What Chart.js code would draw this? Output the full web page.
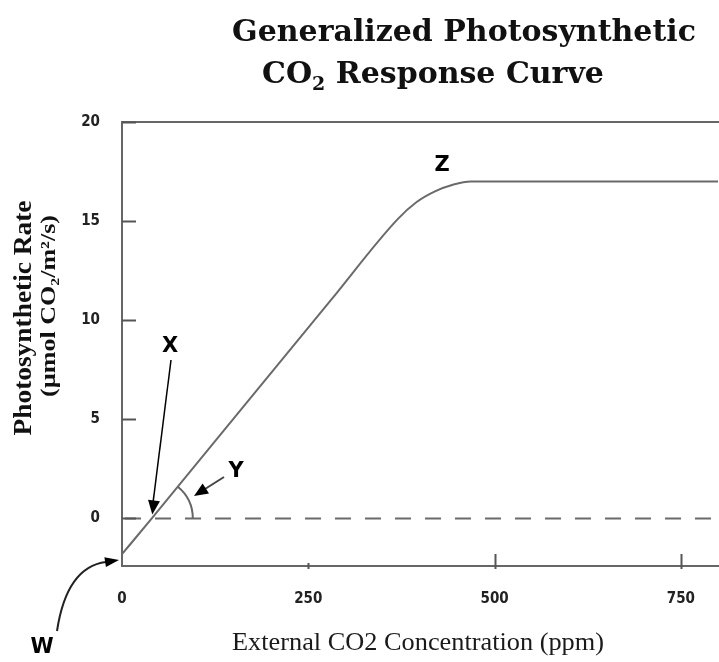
<!DOCTYPE html>
<html>
<head>
<meta charset="utf-8">
<script src="https://cdn.jsdelivr.net/npm/chart.js@4/dist/chart.umd.min.js"></script>
<style>
html,body{margin:0;padding:0;background:#fff;}
canvas{display:block;}
</style>
</head>
<body>
<canvas id="c" width="719" height="662"></canvas>
<script>
// ---- data ----
const co2Ppm    = [0, 40, 150, 280, 370, 395, 420, 445, 468, 800];
const photoRate = [-1.8, 0, 5.05, 11.0, 15.1, 15.95, 16.5, 16.85, 17.0, 17.0];
const baselineX = [0, 800];
const baselineY = [0, 0];
const xTickValues = [0, 250, 500, 750];
const yTickValues = [0, 5, 10, 15, 20];
const chartTitle = ["Generalized Photosynthetic", "CO", "2", " Response Curve"];
const xTitle = "External CO2 Concentration (ppm)";
const yTitle = ["Photosynthetic Rate", "(µmol CO₂/m²/s)"];
const labelW = "W", labelX = "X", labelY = "Y", labelZ = "Z";

const curve = co2Ppm.map((x, i) => ({x, y: photoRate[i]}));
const base = baselineX.map((x, i) => ({x, y: baselineY[i]}));

const SERIF = "'DejaVu Serif', 'Liberation Serif', serif";
const TIMES = "'Liberation Serif', 'DejaVu Serif', serif";
const SANS = "'DejaVu Sans', 'Liberation Sans', sans-serif";

function arrowHead(ctx, x1, y1, x2, y2, len, wid) {
  const a = Math.atan2(y2 - y1, x2 - x1);
  ctx.beginPath();
  ctx.moveTo(x2, y2);
  ctx.lineTo(x2 - len * Math.cos(a) + wid * Math.sin(a), y2 - len * Math.sin(a) - wid * Math.cos(a));
  ctx.lineTo(x2 - len * Math.cos(a) - wid * Math.sin(a), y2 - len * Math.sin(a) + wid * Math.cos(a));
  ctx.closePath();
  ctx.fill();
}

const decor = {
  id: 'decor',
  afterDraw(chart) {
    const ctx = chart.ctx;
    const xs = chart.scales.x, ys = chart.scales.y;
    const ca = chart.chartArea;
    ctx.save();
    // inner tick marks
    ctx.strokeStyle = '#555';
    ctx.lineWidth = 2;
    yTickValues.forEach(v => {
      const py = Math.round(ys.getPixelForValue(v)) + 0.5;
      ctx.beginPath(); ctx.moveTo(ca.left, py); ctx.lineTo(ca.left + 14, py); ctx.stroke();
    });
    xTickValues.forEach(v => {
      if (v === 0) return;
      const px = Math.round(xs.getPixelForValue(v)) + 0.5;
      const up = v === 250 ? 3 : 12;
      ctx.beginPath(); ctx.moveTo(px, ca.bottom - up); ctx.lineTo(px, ca.bottom + 3); ctx.stroke();
    });

    // chart title
    ctx.fillStyle = '#111';
    ctx.textBaseline = 'alphabetic';
    ctx.font = "bold 30px " + SERIF;
    ctx.textAlign = 'center';
    ctx.fillText(chartTitle[0], 464, 41);
    ctx.textAlign = 'left';
    const f1 = "bold 30px " + SERIF, f2 = "bold 19px " + SERIF;
    ctx.font = f1; const w1 = ctx.measureText(chartTitle[1]).width;
    ctx.font = f2; const w2 = ctx.measureText(chartTitle[2]).width;
    ctx.font = f1; const w3 = ctx.measureText(chartTitle[3]).width;
    let sx = 433 - (w1 + w2 + w3) / 2;
    ctx.font = f1; ctx.fillText(chartTitle[1], sx, 83);
    ctx.font = f2; ctx.fillText(chartTitle[2], sx + w1, 90);
    ctx.font = f1; ctx.fillText(chartTitle[3], sx + w1 + w2, 83);

    // x axis title
    ctx.textAlign = 'center';
    ctx.textBaseline = 'middle';
    ctx.fillStyle = '#1a1a1a';
    ctx.font = "25px " + TIMES;
    ctx.save();
    ctx.translate(418, 643);
    const wx = ctx.measureText(xTitle).width;
    ctx.scale(372 / wx, 1);
    ctx.fillText(xTitle, 0, 0);
    ctx.restore();

    // y axis title (rotated, stretched along the text like the reference)
    ctx.fillStyle = '#111';
    ctx.save();
    ctx.translate(25, 318);
    ctx.rotate(-Math.PI / 2);
    ctx.font = "bold 25px " + TIMES;
    let wl = ctx.measureText(yTitle[0]).width;
    ctx.save(); ctx.scale(235 / wl, 1); ctx.fillText(yTitle[0], 0, 0); ctx.restore();
    ctx.restore();
    ctx.save();
    ctx.translate(50, 306);
    ctx.rotate(-Math.PI / 2);
    ctx.font = "bold 21px " + TIMES;
    wl = ctx.measureText(yTitle[1]).width;
    ctx.save(); ctx.scale(182 / wl, 1); ctx.fillText(yTitle[1], 0, 0); ctx.restore();
    ctx.restore();

    // annotation letters
    ctx.font = "bold 21px " + SANS;
    ctx.fillStyle = '#000';
    ctx.fillText(labelZ, 442, 166);
    ctx.fillText(labelX, 170, 347);
    ctx.fillText(labelY, 236, 472);
    ctx.fillText(labelW, 42, 648);

    // X arrow -> where the curve crosses zero
    const cx = xs.getPixelForValue(co2Ppm[1]);
    const cy = ys.getPixelForValue(0);
    ctx.strokeStyle = '#000'; ctx.lineWidth = 1.5;
    ctx.beginPath(); ctx.moveTo(171, 360); ctx.lineTo(cx + 1, cy - 14); ctx.stroke();
    arrowHead(ctx, 171, 360, cx + 0.5, cy - 4, 14, 6);

    // angle arc Y
    const p0 = xs.getPixelForValue(co2Ppm[0]), q0 = ys.getPixelForValue(photoRate[0]);
    const p3 = xs.getPixelForValue(co2Ppm[3]), q3 = ys.getPixelForValue(photoRate[3]);
    const ang = Math.atan2(q3 - q0, p3 - p0);
    ctx.strokeStyle = '#666'; ctx.lineWidth = 2;
    ctx.beginPath(); ctx.arc(cx, cy, 41, ang, 0); ctx.stroke();
    // Y arrow
    ctx.strokeStyle = '#444'; ctx.lineWidth = 2; ctx.fillStyle = '#000';
    ctx.beginPath(); ctx.moveTo(224, 477); ctx.lineTo(205, 489); ctx.stroke();
    arrowHead(ctx, 224, 477, 194, 496, 14, 6);

    // W curved arrow
    ctx.strokeStyle = '#222'; ctx.lineWidth = 2;
    ctx.beginPath();
    ctx.moveTo(57, 631);
    ctx.bezierCurveTo(62, 598, 74, 566, 106, 562);
    ctx.stroke();
    arrowHead(ctx, 100, 563, 119, 560, 14, 5);
    ctx.restore();
  }
};

new Chart(document.getElementById('c'), {
  type: 'line',
  data: {
    datasets: [
      { data: curve, borderColor: '#6a6a6a', borderWidth: 2, pointRadius: 0,
        cubicInterpolationMode: 'monotone', fill: false },
      { data: base, borderColor: '#6a6a6a', borderWidth: 2, pointRadius: 0,
        borderDash: [16, 14], borderDashOffset: -3, fill: false }
    ]
  },
  options: {
    responsive: false,
    animation: false,
    devicePixelRatio: 1,
    layout: { padding: { left: 0, top: 122, right: 0, bottom: 0 } },
    plugins: { legend: { display: false }, tooltip: { enabled: false }, title: { display: false } },
    scales: {
      x: {
        type: 'linear', min: 0, max: 800, position: 'bottom',
        afterBuildTicks: s => { s.ticks = xTickValues.map(v => ({value: v})); },
        afterFit: s => { s.height = 96; },
        grid: { display: true, drawOnChartArea: false, drawTicks: false },
        border: { display: true, color: '#666', width: 2 },
        ticks: { padding: 24, color: '#222', font: { family: "'DejaVu Sans Condensed', 'DejaVu Sans', sans-serif", size: 15, weight: 'bold' } }
      },
      x2: {
        type: 'linear', min: 0, max: 800, position: 'top',
        afterFit: s => { s.height = 0; },
        grid: { display: false, drawTicks: false },
        border: { display: true, color: '#666', width: 2 },
        ticks: { display: false }
      },
      y: {
        type: 'linear', min: -2.4, max: 20,
        afterBuildTicks: s => { s.ticks = yTickValues.map(v => ({value: v})); },
        afterFit: s => { s.width = 122; },
        grid: { display: true, drawOnChartArea: false, drawTicks: false },
        border: { display: true, color: '#666', width: 2 },
        ticks: { padding: 22, color: '#222', font: { family: "'DejaVu Sans Condensed', 'DejaVu Sans', sans-serif", size: 15, weight: 'bold' } }
      }
    }
  },
  plugins: [decor]
});
</script>
</body>
</html>
